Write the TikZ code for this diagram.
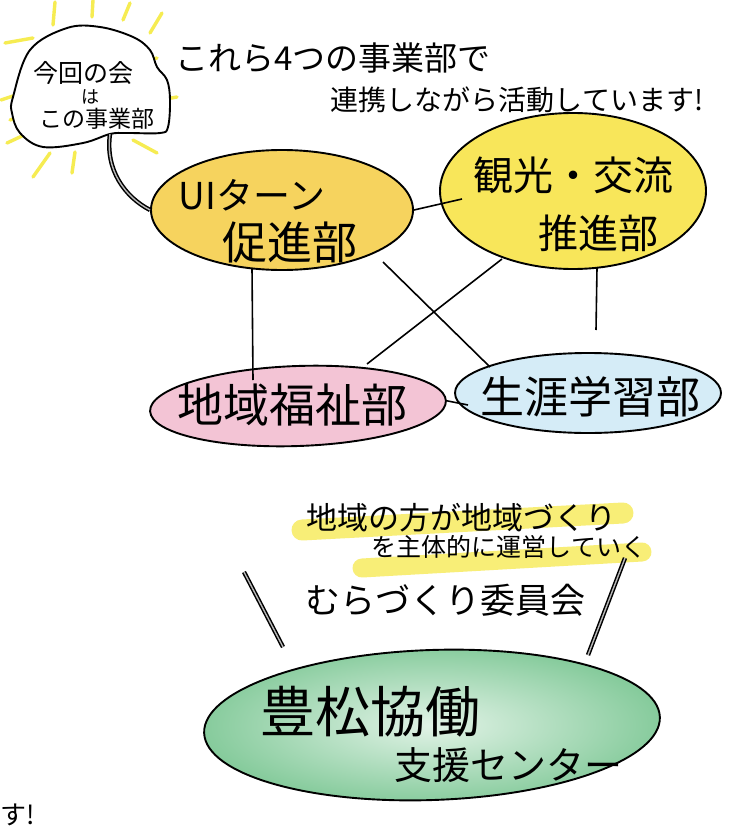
\documentclass[tikz,border=0pt]{standalone}
\usepackage{fontspec}
\setmainfont{Noto Sans CJK JP}
\usetikzlibrary{shapes.geometric}
\definecolor{uiyel}{HTML}{F6D35E}
\definecolor{kkyel}{HTML}{F8E65A}
\definecolor{fkpink}{HTML}{F3C4D5}
\definecolor{sgblue}{HTML}{D5ECF7}
\definecolor{cgreen}{HTML}{86CB9C}
\definecolor{cgreenin}{HTML}{E2F3E7}
\definecolor{raycol}{HTML}{F6EC52}
\definecolor{hlcol}{HTML}{F7EA55}
\newcommand\jfs[1]{\fontsize{#1}{#1}\selectfont}
\begin{document}
\begin{tikzpicture}[x=1pt,y=-1pt,
  outl/.style={draw=black, line width=1.9pt},
  dept/.style={ellipse, outl, inner sep=0pt},
  conn/.style={draw=black, line width=1.6pt},
  lbl/.style={inner sep=0pt, text=black},
  rayln/.style={draw=raycol, line width=3.4pt, line cap=round},
  dbl/.style={draw=black, double=gray!55, double distance=1.4pt, line width=1.5pt},
  hlband/.style={draw=hlcol, opacity=0.8, line cap=round}
]
\useasboundingbox (0,0) rectangle (733,832);
\fill[white] (0,0) rectangle (733,832);

% sun rays around the speech bubble
\foreach \a/\b in {{(55,2)}/{(53,25)}, {(93,0)}/{(92,17)}, {(130,3)}/{(123,20)}, {(162,13)}/{(150,33)},
  {(5,43)}/{(33,38)}, {(1,100)}/{(16,95)}, {(10,120)}/{(33,113)}, {(7,143)}/{(22,136)},
  {(33,177)}/{(50,153)}, {(72,173)}/{(75,152)}, {(140,63)}/{(157,58)}, {(143,103)}/{(177,97)},
  {(133,140)}/{(157,153)}}
  \draw[rayln] \a -- \b;

% speech bubble
\draw[outl, fill=white] plot[smooth cycle, tension=0.6] coordinates {(13,97) (30,50) (67,28) (100,27) (133,37) (150,50) (157,67) (167,80) (170,100) (168,127) (160,133) (127,133) (110,134) (83,143) (43,147) (20,133) (12,113)};
\node[lbl, font=\jfs{25}] (b1) at (83,73) {今回の会};
\node[lbl, font=\jfs{18}] (b2) at (90,97) {は};
\node[lbl, font=\jfs{23}] (b3) at (97,119) {この事業部};
\coordinate (tail) at (110,134);

% department ellipses
\node[dept, fill=uiyel, minimum width=262pt, minimum height=120pt] (ui) at (282,210) {};
\node[dept, fill=kkyel, minimum width=266pt, minimum height=156pt] (kk) at (573,191) {};
\node[dept, fill=fkpink, minimum width=296pt, minimum height=80pt, rotate=2] (fk) at (298,406) {};
\node[dept, fill=sgblue, minimum width=266pt, minimum height=80pt] (sg) at (588,393) {};

% title
\node[lbl, font=\jfs{33}] (t1) at (333,58) {これら4つの事業部で};
\node[lbl, font=\jfs{28}] (t2) at (517,100) {連携しながら活動しています!};

\node[lbl, font=\jfs{37}] (ui1) at (252,195) {UIターン};
\node[lbl, font=\jfs{45}] (ui2) at (290,242) {促進部};
\node[lbl, font=\jfs{40}] (kk1) at (573,175) {観光・交流};
\node[lbl, font=\jfs{40}] (kk2) at (598,233) {推進部};
\node[lbl, font=\jfs{46}] (fk1) at (292,405) {地域福祉部};
\node[lbl, font=\jfs{44}] (sg1) at (590,397) {生涯学習部};

% tail of the bubble
\draw[dbl] (tail) .. controls (105,170) and (125,197) .. (ui.west);

% connectors
\coordinate (uiB) at (252,268);
\coordinate (fkT) at (253,380);
\coordinate (uiR) at (383,262);
\coordinate (sgTL) at (490,367);
\coordinate (kkBL) at (502,259);
\coordinate (fkTR) at (367,364);
\coordinate (kkB) at (597,268);
\coordinate (kkEnd) at (596,330);
\coordinate (kkIn) at (462,199);
\coordinate (sgIn) at (468,405);
\draw[conn] (uiB) -- (fkT);
\draw[conn] (uiR) -- (sgTL);
\draw[conn] (kkBL) -- (fkTR);
\draw[conn] (kkB) -- (kkEnd);
\draw[conn] (ui.east) -- (kkIn);
\draw[conn] (fk.east) -- (sgIn);

% highlight and committee text
\draw[hlband, line width=21pt] (302,530) -- (623,513);
\draw[hlband, line width=19pt] (362,568) -- (642,552);
\node[lbl, font=\jfs{31}] (h1) at (461,518) {地域の方が地域づくり};
\node[lbl, font=\jfs{25}] (h2) at (509,547) {を主体的に運営していく};
\node[lbl, font=\jfs{35}] (mc) at (445,600) {むらづくり委員会};

% slanted double strokes
\coordinate (l1a) at (244,572);
\coordinate (l1b) at (283,647);
\coordinate (r1a) at (625,558);
\coordinate (r1b) at (588,655);
\draw[dbl] (l1a) -- (l1b);
\draw[dbl] (r1a) -- (r1b);

% support centre
\node[ellipse, draw=black, line width=1.9pt, shading=radial, inner color=cgreenin, outer color=cgreen,
      minimum width=456pt, minimum height=150pt, rotate=2, inner sep=0pt] (cen) at (432,725) {};
\node[lbl, font=\jfs{55}] (c1) at (370,712) {豊松協働};
\node[lbl, font=\jfs{38}] (c2) at (508,765) {支援センター};

% text at the lower left edge
\node[lbl, font=\jfs{26}, anchor=west] (edge) at (0,815) {す!};
\end{tikzpicture}
\end{document}
